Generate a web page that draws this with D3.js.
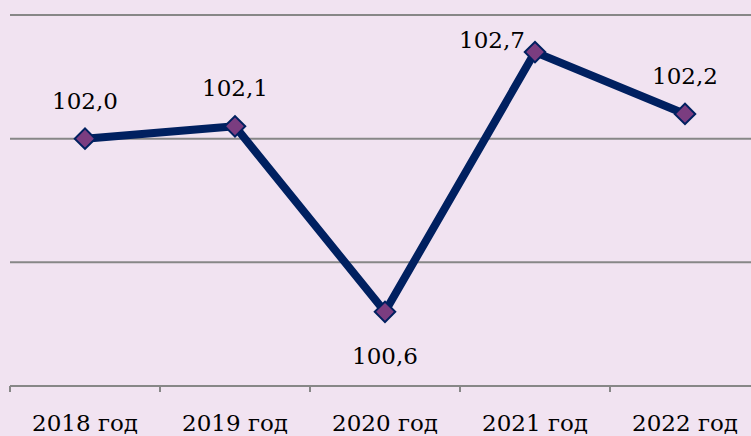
<!DOCTYPE html>
<html>
<head>
<meta charset="utf-8">
<script src="https://cdn.jsdelivr.net/npm/d3@7"></script>
<style>
  html, body { margin: 0; padding: 0; background: #f1e3f1; }
  svg { display: block; }
</style>
</head>
<body>
<svg id="chart" width="751" height="436"></svg>
<script>
const years = ['2018 год', '2019 год', '2020 год', '2021 год', '2022 год']
const values = [102.0, 102.1, 100.6, 102.7, 102.2]
const gridTicks = [100, 101, 102, 103]

const svg = d3.select('#chart')
const width = 751, height = 436

// plot area runs past the right edge like the original
const x = d3.scaleBand().domain(years).range([10, 760])
const y = d3.scaleLinear().domain([100, 103]).range([386, 15])

const fmt = v => d3.format('.1f')(v).replace('.', ',')

svg.append('rect').attr('width', width).attr('height', height).attr('fill', '#f1e3f1')

// gridlines
svg.append('g').selectAll('line').data(gridTicks.filter(d => d > 100)).join('line')
    .attr('x1', 10).attr('x2', width)
    .attr('y1', d => y(d)).attr('y2', d => y(d))
    .attr('stroke', '#878787').attr('stroke-width', 2)

// x axis
const xAxis = svg.append('g').attr('transform', `translate(0, ${y(100)})`)
xAxis.append('line').attr('x1', 10).attr('x2', width)
    .attr('stroke', '#878787').attr('stroke-width', 2)
xAxis.selectAll('.tick-mark').data(years).join('line')
    .attr('class', 'tick-mark')
    .attr('x1', d => x(d)).attr('x2', d => x(d))
    .attr('y1', 0).attr('y2', 6)
    .attr('stroke', '#878787').attr('stroke-width', 2)
xAxis.selectAll('text').data(years).join('text')
    .attr('x', d => x(d) + x.bandwidth() / 2)
    .attr('y', 45)
    .attr('text-anchor', 'middle')
    .attr('font-family', 'DejaVu Serif')
    .attr('font-size', 23)
    .attr('fill', '#000')
    .text(d => d)

const pts = years.map((d, i) => [x(d) + x.bandwidth() / 2, y(values[i])])

// line
svg.append('path')
    .attr('d', d3.line()(pts))
    .attr('fill', 'none')
    .attr('stroke', '#002060')
    .attr('stroke-width', 8)
    .attr('stroke-linejoin', 'round')

// markers
svg.append('g').selectAll('path').data(pts).join('path')
    .attr('d', d3.symbol().type(d3.symbolSquare).size(210))
    .attr('transform', d => `translate(${d[0]}, ${d[1]}) rotate(45)`)
    .attr('fill', '#7b3d80')
    .attr('stroke', '#002060')
    .attr('stroke-width', 2)

// data labels: above, below for the minimum, left of the maximum
const iMin = values.indexOf(d3.min(values))
const iMax = values.indexOf(d3.max(values))
svg.append('g').selectAll('text').data(values).join('text')
    .attr('x', (d, i) => pts[i][0] - (i == iMax ? 43 : 0))
    .attr('y', (d, i) => pts[i][1] + (i == iMin ? 52 : i == iMax ? -4 : -30))
    .attr('text-anchor', 'middle')
    .attr('font-family', 'DejaVu Serif')
    .attr('font-size', 23)
    .attr('fill', '#000')
    .text(d => fmt(d))
</script>
</body>
</html>
